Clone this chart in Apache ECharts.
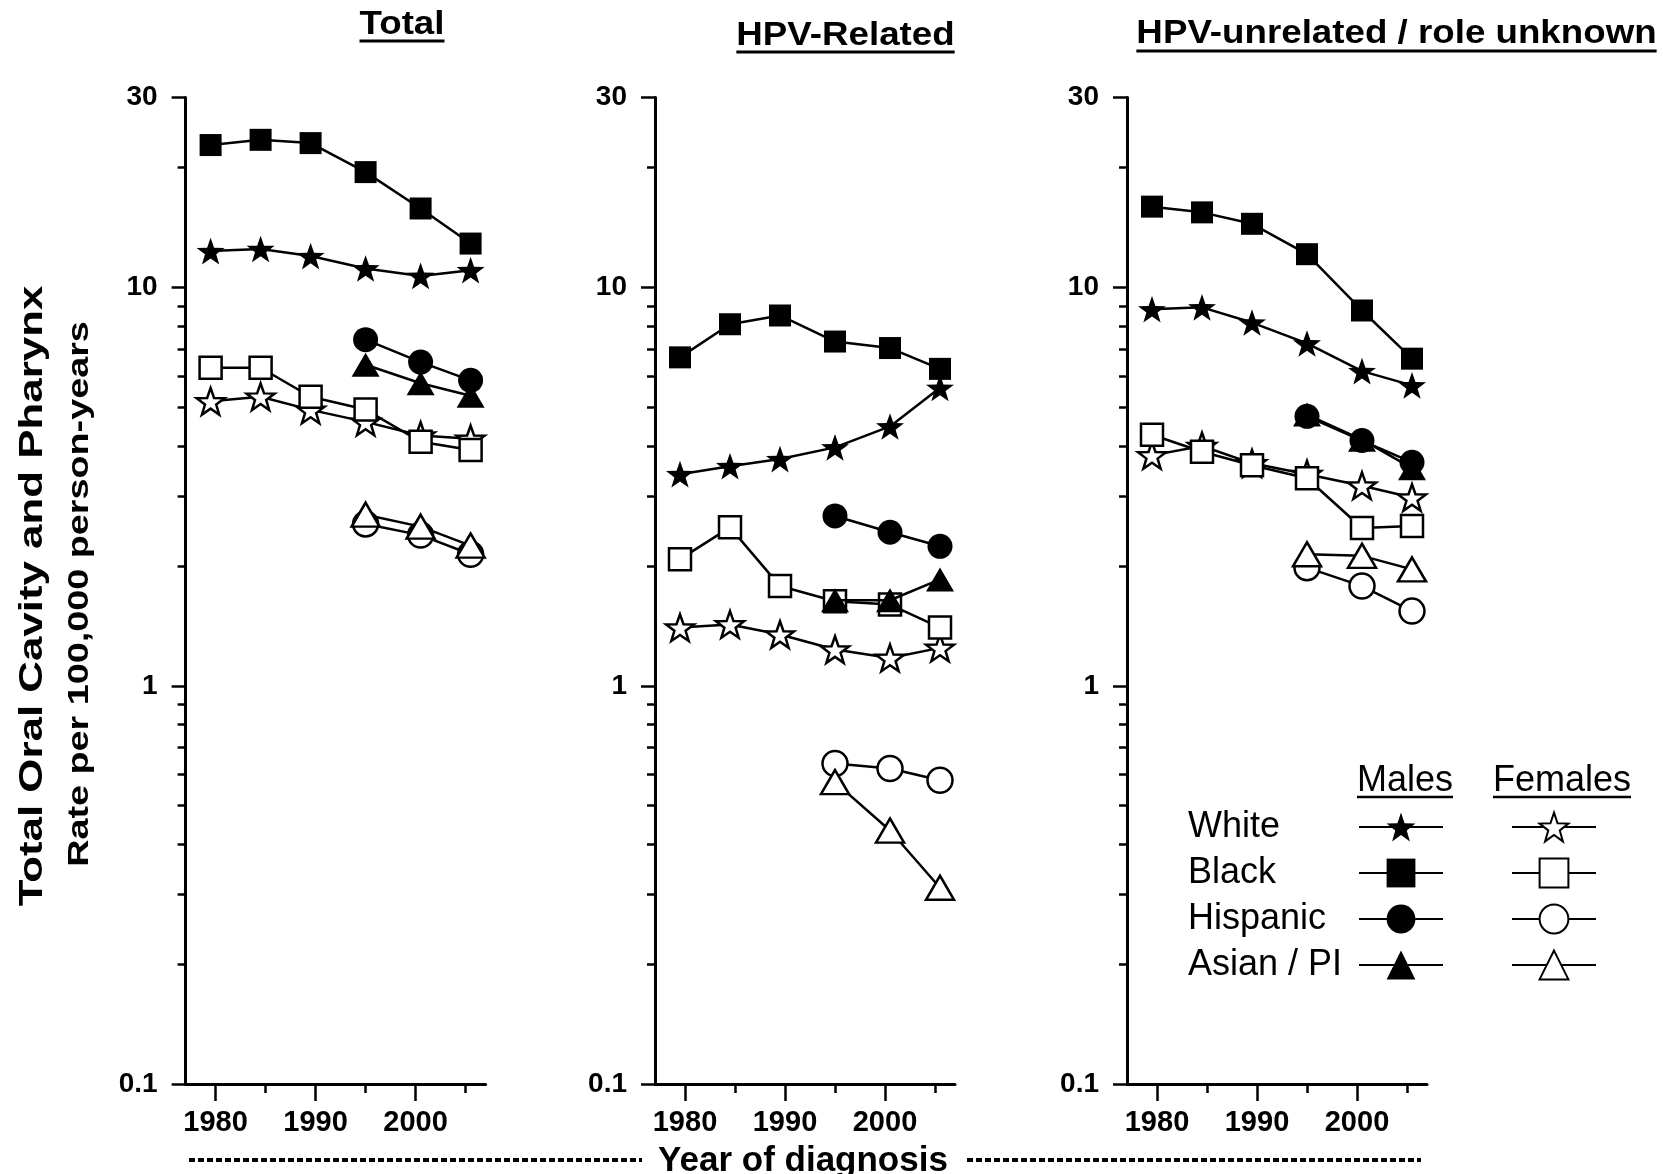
<!DOCTYPE html>
<html><head><meta charset="utf-8">
<script src="https://cdn.jsdelivr.net/npm/echarts@6/dist/echarts.min.js"></script>
<style>html,body{margin:0;padding:0;background:#fff}#c{width:1663px;height:1174px}</style>
</head><body><div id="c"></div>
<script>
// ---------------- DATA ----------------
const years = [1979.5, 1984.5, 1989.5, 1995, 2000.5, 2005.5];
const panelTitles = ['Total', 'HPV-Related', 'HPV-unrelated / role unknown'];
const yTickLabels = [0.1, 1, 10, 30];
const yMinorTicks = [0.2, 0.3, 0.4, 0.5, 0.6, 0.7, 0.8, 0.9, 2, 3, 4, 5, 6, 7, 8, 9, 20];
const xTickLabels = [1980, 1990, 2000];
const xMinorTicks = [1985, 1995, 2005];
const races = ['White', 'Black', 'Hispanic', 'Asian / PI'];
const sexes = ['Males', 'Females'];
const yTitle = 'Total Oral Cavity and Pharynx';
const ySubTitle = 'Rate per 100,000 person-years';
const xTitle = 'Year of diagnosis';

// Panel 1: Total
const totalWhiteMales      = [12.35, 12.5, 12.0, 11.17, 10.7, 11.06];
const totalBlackMales      = [22.8, 23.5, 23.06, 19.5, 15.8, 12.9];
const totalHispanicMales   = [null, null, null, 7.4, 6.5, 5.85];
const totalAsianMales      = [null, null, null, 6.4, 5.75, 5.35];
const totalWhiteFemales    = [5.18, 5.32, 4.93, 4.6, 4.25, 4.17];
const totalBlackFemales    = [6.29, 6.29, 5.32, 4.94, 4.10, 3.91];
const totalHispanicFemales = [null, null, null, 2.55, 2.39, 2.14];
const totalAsianFemales    = [null, null, null, 2.69, 2.51, 2.25];

// Panel 2: HPV-Related
const hpvWhiteMales      = [3.40, 3.56, 3.71, 3.97, 4.48, 5.6];
const hpvBlackMales      = [6.68, 8.09, 8.51, 7.32, 7.05, 6.25];
const hpvHispanicMales   = [null, null, null, 2.67, 2.43, 2.24];
const hpvAsianMales      = [null, null, null, 1.64, 1.64, 1.85];
const hpvWhiteFemales    = [1.40, 1.426, 1.345, 1.233, 1.175, 1.245];
const hpvBlackFemales    = [2.08, 2.50, 1.78, 1.63, 1.60, 1.40];
const hpvHispanicFemales = [null, null, null, 0.638, 0.620, 0.579];
const hpvAsianFemales    = [null, null, null, 0.573, 0.433, 0.311];

// Panel 3: HPV-unrelated / role unknown
const unrWhiteMales      = [8.82, 8.92, 8.17, 7.24, 6.17, 5.68];
const unrBlackMales      = [15.97, 15.45, 14.46, 12.13, 8.76, 6.63];
const unrHispanicMales   = [null, null, null, 4.75, 4.13, 3.64];
const unrAsianMales      = [null, null, null, 4.8, 4.15, 3.52];
const unrWhiteFemales    = [3.79, 4.0, 3.62, 3.40, 3.18, 2.97];
const unrBlackFemales    = [4.27, 3.87, 3.58, 3.32, 2.49, 2.52];
const unrHispanicFemales = [null, null, null, 1.98, 1.78, 1.54];
const unrAsianFemales    = [null, null, null, 2.14, 2.12, 1.96];

const panelSeries = [
  [totalWhiteMales, totalBlackMales, totalHispanicMales, totalAsianMales,
   totalWhiteFemales, totalBlackFemales, totalHispanicFemales, totalAsianFemales],
  [hpvWhiteMales, hpvBlackMales, hpvHispanicMales, hpvAsianMales,
   hpvWhiteFemales, hpvBlackFemales, hpvHispanicFemales, hpvAsianFemales],
  [unrWhiteMales, unrBlackMales, unrHispanicMales, unrAsianMales,
   unrWhiteFemales, unrBlackFemales, unrHispanicFemales, unrAsianFemales]
];

// ---------------- STYLE ----------------
const FONT = '"Liberation Sans", Arial, Helvetica, sans-serif';
const STAR = (function () {
  let d = 'path://';
  for (let k = 0; k < 10; k++) {
    const a = (-90 + 36 * k) * Math.PI / 180;
    const r = k % 2 === 0 ? 50 : 20;
    d += (k === 0 ? 'M' : 'L') + (50 + r * Math.cos(a)).toFixed(2) + ' ' + (50 + r * Math.sin(a)).toFixed(2) + ' ';
  }
  return d + 'Z';
})();
const raceSymbols = [
  { symbol: STAR, size: 28 },
  { symbol: 'rect', size: 22 },
  { symbol: 'circle', size: 25 },
  { symbol: 'triangle', size: [28, 24] }
];
const GRID_LEFTS = [185.6, 655, 1127];
const GRID_TOP = 97.6, GRID_H = 986.4, GRID_W = 300;
const XMIN = 1977, XMAX = 2007;

const series = [];
panelSeries.forEach(function (list, p) {
  list.forEach(function (vals, g) {
    const race = g % 4, sex = Math.floor(g / 4);
    const filled = sex === 0;
    const data = [];
    vals.forEach(function (v, i) { if (v != null) data.push([years[i], v]); });
    series.push({
      type: 'line',
      name: races[race] + ' ' + sexes[sex],
      xAxisIndex: p, yAxisIndex: p,
      data: data,
      symbol: raceSymbols[race].symbol,
      symbolSize: raceSymbols[race].size,
      symbolKeepAspect: true,
      showAllSymbol: true,
      clip: false,
      z: filled ? 3 : 2,
      lineStyle: { color: '#000', width: 2.5 },
      itemStyle: filled
        ? { color: '#000', borderColor: '#000', borderWidth: 0 }
        : { color: '#fff', borderColor: '#000', borderWidth: 2.5 },
      emphasis: { disabled: true }
    });
  });
});

const axisLineStyle = { color: '#000', width: 3 };
const xAxes = [], yAxes = [];
GRID_LEFTS.forEach(function (l, i) {
  xAxes.push({
    type: 'value', gridIndex: i, min: XMIN, max: XMAX, position: 'bottom',
    axisLine: { show: true, onZero: false, lineStyle: axisLineStyle },
    axisTick: { show: true, customValues: xTickLabels, length: 17, lineStyle: { color: '#000', width: 2.5 } },
    axisLabel: { customValues: xTickLabels, color: '#000', fontWeight: 'bold', fontSize: 29, fontFamily: FONT, margin: 24,
      formatter: function (v) { return String(Math.round(v)); } },
    splitLine: { show: false }
  });
  yAxes.push({
    type: 'log', logBase: 10, gridIndex: i, min: 0.1, max: 30, position: 'left',
    axisLine: { show: true, lineStyle: axisLineStyle },
    axisTick: { show: true, customValues: yTickLabels, length: 14, lineStyle: { color: '#000', width: 2.5 } },
    axisLabel: {
      customValues: yTickLabels, color: '#000', fontWeight: 'bold', fontSize: 28, fontFamily: FONT, margin: 28,
      formatter: function (v) { return v < 1 ? (+v).toFixed(1) : String(Math.round(v)); }
    },
    splitLine: { show: false }
  });
});
GRID_LEFTS.forEach(function (l, i) {
  xAxes.push({
    type: 'value', gridIndex: i, min: XMIN, max: XMAX, position: 'bottom',
    axisLine: { show: false, onZero: false },
    axisTick: { show: true, customValues: xMinorTicks, length: 9, lineStyle: { color: '#000', width: 2.5 } },
    axisLabel: { show: false }, splitLine: { show: false }
  });
  yAxes.push({
    type: 'log', logBase: 10, gridIndex: i, min: 0.1, max: 30, position: 'left',
    axisLine: { show: false },
    axisTick: { show: true, customValues: yMinorTicks, length: 8, lineStyle: { color: '#000', width: 2.5 } },
    axisLabel: { show: false }, splitLine: { show: false }
  });
});

// ---------- decorations (titles, underlines) ----------
const ctx = document.createElement('canvas').getContext('2d');
function textWidth(t, size, weight) { ctx.font = weight + ' ' + size + 'px ' + FONT; return ctx.measureText(t).width; }

const graphics = [];
const titlePos = [[402, 25, 41], [845.5, 36, 52], [1396.5, 34, 51]];
panelTitles.forEach(function (t, i) {
  const sx = 1.08, size = 34;
  const w = textWidth(t, size, 'bold') * sx;
  graphics.push({ type: 'text', x: titlePos[i][0], y: titlePos[i][1], scaleX: sx,
    style: { text: t, font: 'bold ' + size + 'px ' + FONT, fill: '#000', textAlign: 'center', textVerticalAlign: 'middle' } });
  graphics.push({ type: 'line', shape: { x1: titlePos[i][0] - w / 2, y1: titlePos[i][2], x2: titlePos[i][0] + w / 2, y2: titlePos[i][2] },
    style: { stroke: '#000', lineWidth: 3 } });
});
graphics.push({ type: 'text', x: 33, y: 596, rotation: Math.PI / 2, scaleX: 1.29,
  style: { text: yTitle, font: 'bold 34px ' + FONT, fill: '#000', textAlign: 'center', textVerticalAlign: 'middle' } });
graphics.push({ type: 'text', x: 80, y: 594, rotation: Math.PI / 2, scaleX: 1.28,
  style: { text: ySubTitle, font: 'bold 29.5px ' + FONT, fill: '#000', textAlign: 'center', textVerticalAlign: 'middle' } });
graphics.push({ type: 'text', x: 803, y: 1161,
  style: { text: xTitle, font: 'bold 35px ' + FONT, fill: '#000', textAlign: 'center', textVerticalAlign: 'middle' } });
graphics.push({ type: 'line', shape: { x1: 189, y1: 1160, x2: 642, y2: 1160 }, style: { stroke: '#000', lineWidth: 4, lineDash: [6, 3] } });
graphics.push({ type: 'line', shape: { x1: 967, y1: 1160, x2: 1421, y2: 1160 }, style: { stroke: '#000', lineWidth: 4, lineDash: [6, 3] } });
// legend headers
[[sexes[0], 1405], [sexes[1], 1562]].forEach(function (h) {
  const w = textWidth(h[0], 36, 'normal');
  graphics.push({ type: 'text', x: h[1], y: 781,
    style: { text: h[0], font: '36px ' + FONT, fill: '#000', textAlign: 'center', textVerticalAlign: 'middle' } });
  graphics.push({ type: 'line', shape: { x1: h[1] - w / 2, y1: 797, x2: h[1] + w / 2, y2: 797 }, style: { stroke: '#000', lineWidth: 2.5 } });
});

const maleNames = races.map(function (r) { return r + ' ' + sexes[0]; });
const femaleNames = races.map(function (r) { return r + ' ' + sexes[1]; });

const legendRich = { width: 166, fontSize: 36, fontFamily: FONT, color: '#000', align: 'left', lineHeight: 36, height: 36 };
const option = {
  backgroundColor: '#fff',
  animation: false,
  grid: GRID_LEFTS.map(function (l) { return { left: l, top: GRID_TOP, width: GRID_W, height: GRID_H, containLabel: false }; }),
  xAxis: xAxes,
  yAxis: yAxes,
  legend: [
    { orient: 'vertical', left: 1188, top: 809, padding: 0, itemGap: 10, itemWidth: 84, itemHeight: 36,
      align: 'right', selectedMode: false, data: maleNames,
      formatter: function (n) { return '{t|' + n.replace(' ' + sexes[0], '') + '}'; },
      textStyle: { rich: { t: legendRich } } },
    { orient: 'vertical', left: 1511, top: 809, padding: 0, itemGap: 10, itemWidth: 84, itemHeight: 36,
      selectedMode: false, data: femaleNames, formatter: function () { return '{e| }'; },
      textStyle: { rich: { e: { width: 1, fontSize: 36, lineHeight: 36, height: 36, color: 'rgba(0,0,0,0)' } } } }
  ],
  graphic: graphics,
  series: series
};
const chart = echarts.init(document.getElementById('c'), null, { renderer: 'canvas' });
chart.setOption(option);
</script>
</body></html>
